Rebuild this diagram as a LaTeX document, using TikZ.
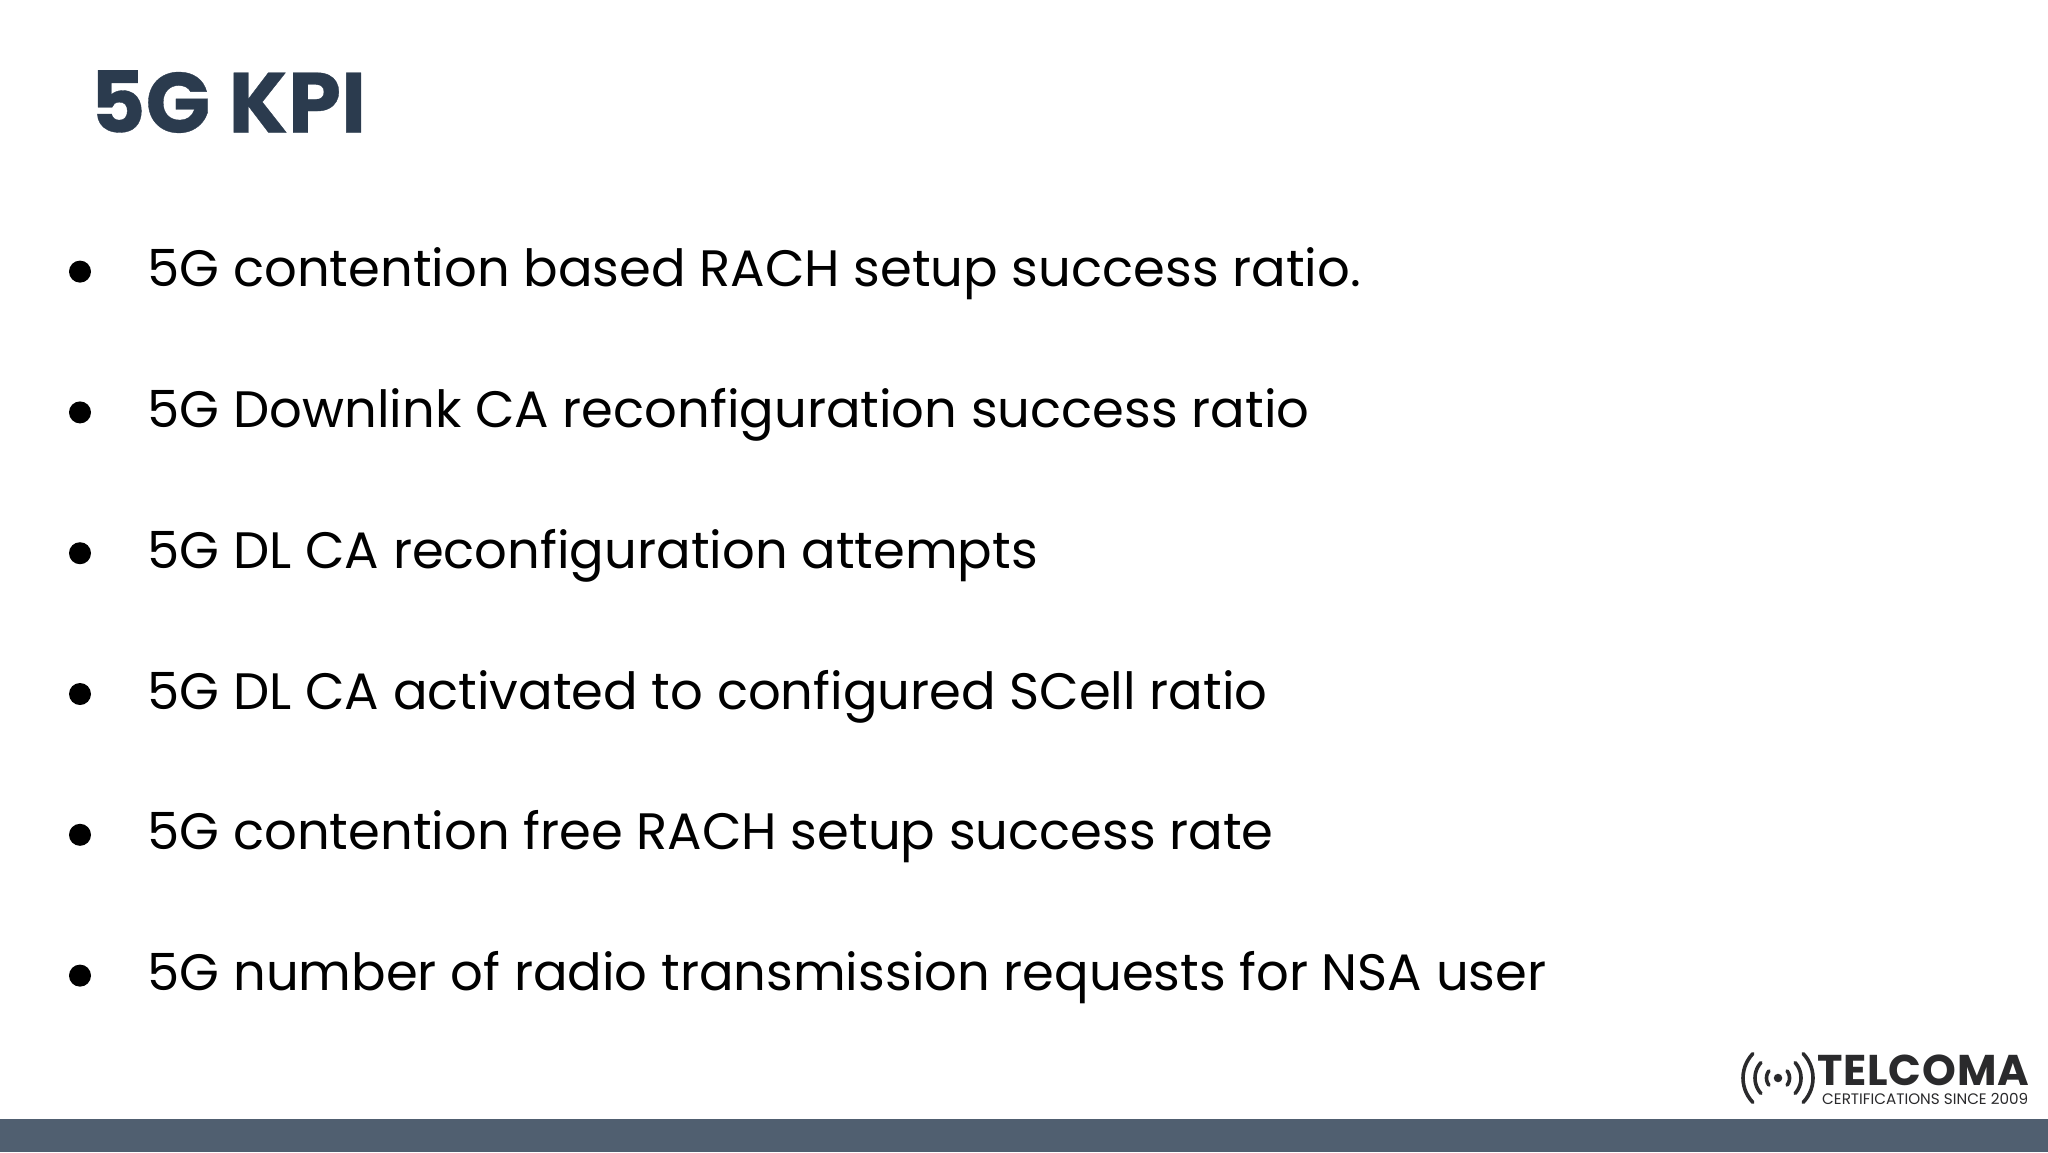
\documentclass[tikz,border=0pt]{standalone}
\usepackage{fontspec}
\setmainfont{Poppins}
\definecolor{titlecol}{HTML}{2B3B4E}
\definecolor{barcol}{HTML}{505F70}
\definecolor{logocol}{HTML}{2A2A2C}
\tikzset{
  kpi/.style={anchor=base west,inner sep=0pt,text=black,font=\fontsize{51.2}{60}\selectfont},
  dotmark/.style={circle,fill=black,inner sep=0pt,minimum size=22pt},
  wave/.style={draw=logocol,line width=3.6pt,line cap=round},
}
\begin{document}
\begin{tikzpicture}[x=1pt,y=-1pt]
\useasboundingbox (0,0) rectangle (2048,1152);
\fill[white] (0,0) rectangle (2048,1152);
\fill[barcol] (0,1119) rectangle (2048,1152);
\node[anchor=base west,inner sep=0pt,text=titlecol,font=\fontsize{85.2}{90}\selectfont\bfseries\addfontfeature{FakeBold=0.4}] (title) at (90,132.5) {5G KPI};
\foreach \n/\y/\t in {a/286.6/5G contention based RACH setup success ratio.,
  b/427.4/5G Downlink CA reconfiguration success ratio,
  c/568.2/5G DL CA reconfiguration attempts,
  d/709/5G DL CA activated to configured SCell ratio,
  e/849.8/5G contention free RACH setup success rate,
  f/990.6/5G number of radio transmission requests for NSA user}{
  \node[dotmark] (dot\n) at (80,\y-15) {};
  \node[kpi] (item\n) at (147.5,\y) {\t};
}
\node[circle,fill=logocol,inner sep=0pt,minimum size=8.5pt] (logodot) at (1778,1078) {};
\foreach \r/\a in {11.5/38,23/42,35/44}{
  \draw[wave] plot[smooth,domain=180-\a:180+\a,samples=15] ({1778+\r*cos(\x)},{1078+\r*sin(\x)});
  \draw[wave] plot[smooth,domain=-\a:\a,samples=15] ({1778+\r*cos(\x)},{1078+\r*sin(\x)});
}
\node[anchor=base west,inner sep=0pt,text=logocol,font=\fontsize{43}{44}\selectfont\bfseries\addfontfeature{LetterSpace=2}] (logoname) at (1817,1085) {TELCOMA};
\node[anchor=base west,inner sep=0pt,text=logocol,font=\fontsize{15.2}{16}\selectfont] (logotag) at (1822,1104.5) {CERTIFICATIONS SINCE 2009};
\end{tikzpicture}
\end{document}
